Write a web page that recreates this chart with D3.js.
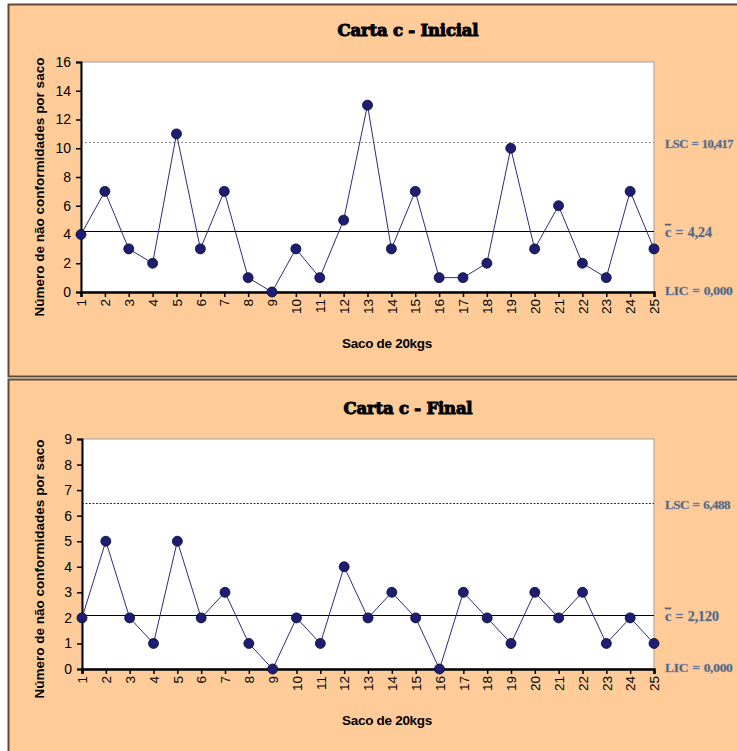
<!DOCTYPE html>
<html><head><meta charset="utf-8">
<script src="https://cdn.jsdelivr.net/npm/d3@7"></script>
<style>body{margin:0;background:#fff}svg{display:block}</style>
</head><body>
<script>
// ---- data ----
const categories = [1,2,3,4,5,6,7,8,9,10,11,12,13,14,15,16,17,18,19,20,21,22,23,24,25];
const valuesInicial = [4,7,3,2,11,3,7,1,0,3,1,5,13,3,7,1,1,2,10,3,6,2,1,7,3];
const valuesFinal   = [2,5,2,1,5,2,3,1,0,2,1,4,2,3,2,0,3,2,1,3,2,3,1,2,1];
const limitsInicial = [10.417, 4.24, 0];   // LSC, c-bar, LIC
const limitsFinal   = [6.488, 2.12, 0];
const labelsInicial = ["10,417", "4,24", "0,000"];
const labelsFinal   = ["6,488", "2,120", "0,000"];
const yTicksInicial = [0,2,4,6,8,10,12,14,16];
const yTicksFinal   = [0,1,2,3,4,5,6,7,8,9];
const titles = ["Carta c - Inicial", "Carta c - Final"];
const xTitle = "Saco de 20kgs";
const yTitle = "Número de não conformidades por saco";

const W = 737, H = 751;
const svg = d3.select("body").append("svg").attr("width", W).attr("height", H);

function drawChart(cfg) {
  const g = svg.append("g");
  g.append("rect").attr("x", 8.5).attr("y", cfg.panelY + 0.5)
    .attr("width", 740).attr("height", cfg.panelH)
    .attr("fill", "#FFCC99").attr("stroke", "#5e4a36").attr("stroke-width", 2);

  g.append("text").attr("x", 408).attr("y", cfg.titleY)
    .attr("text-anchor", "middle")
    .attr("font-family", "'DejaVu Serif', serif").attr("font-weight", "bold")
    .attr("font-size", 16.5).attr("letter-spacing", "-0.2")
    .attr("stroke", "#000").attr("stroke-width", 1)
    .attr("fill", "#000").text(cfg.title);

  const x = d3.scalePoint().domain(categories).range([cfg.left, cfg.right]);
  const y = d3.scaleLinear().domain([0, d3.max(cfg.yTicks)]).range([cfg.bottom, cfg.top]);

  // plot area
  g.append("rect").attr("x", cfg.left).attr("y", cfg.top)
    .attr("width", cfg.right - cfg.left).attr("height", cfg.bottom - cfg.top)
    .attr("fill", "#fff").attr("stroke", "#a0a0a0").attr("stroke-width", 1);

  // control lines
  const [lsc, cl, lic] = cfg.limits;
  g.append("line").attr("x1", cfg.left).attr("x2", cfg.right)
    .attr("y1", Math.round(y(lsc)) + 0.5).attr("y2", Math.round(y(lsc)) + 0.5)
    .attr("stroke", cfg.lscColor).attr("stroke-width", 1).attr("stroke-dasharray", cfg.lscDash);
  g.append("line").attr("x1", cfg.left).attr("x2", cfg.right)
    .attr("y1", Math.round(y(cl)) + 0.5).attr("y2", Math.round(y(cl)) + 0.5)
    .attr("stroke", "#000").attr("stroke-width", 1);

  // axes
  const yAxis = d3.axisLeft(y).tickValues(cfg.yTicks).tickSize(5).tickPadding(5);
  const ya = g.append("g").attr("transform", `translate(${cfg.left},0)`).call(yAxis);
  ya.select(".domain").attr("stroke", "#000").attr("stroke-width", 2);
  ya.selectAll(".tick line").attr("stroke", "#000").attr("stroke-width", 1.5);
  ya.selectAll(".tick text").attr("font-family", "'Liberation Sans', Arial, sans-serif")
    .attr("font-size", 14).attr("fill", "#000");

  const xAxis = d3.axisBottom(x).tickSize(5).tickPadding(0);
  const xa = g.append("g").attr("transform", `translate(0,${cfg.bottom})`).call(xAxis);
  xa.select(".domain").attr("stroke", "#000").attr("stroke-width", 2.5);
  xa.selectAll(".tick line").attr("stroke", "#000").attr("stroke-width", 1.5);
  xa.selectAll(".tick text").attr("font-family", "'Liberation Sans', Arial, sans-serif")
    .attr("font-size", 13.5).attr("fill", "#000")
    .attr("text-anchor", "end").attr("dy", "0.35em")
    .attr("transform", "translate(0,7) rotate(-90)").attr("y", 0).attr("x", 0);

  // series
  const line = d3.line().x((d, i) => x(categories[i])).y(d => y(d));
  g.append("path").datum(cfg.values).attr("d", line)
    .attr("fill", "none").attr("stroke", "#2b2b85").attr("stroke-width", 1);
  g.selectAll(".pt").data(cfg.values).join("circle")
    .attr("cx", (d, i) => x(categories[i])).attr("cy", d => y(d)).attr("r", 5)
    .attr("fill", "#1d1d72").attr("stroke", "#0a0a30").attr("stroke-width", 0.8);

  // axis titles
  g.append("text").attr("x", 387).attr("y", cfg.xTitleY).attr("text-anchor", "middle")
    .attr("font-family", "'Liberation Sans', Arial, sans-serif").attr("font-weight", "bold")
    .attr("font-size", 13.5).attr("letter-spacing", "-0.3").text(xTitle);
  g.append("text").attr("transform", `translate(44,${cfg.yTitleC}) rotate(-90)`)
    .attr("text-anchor", "middle")
    .attr("font-family", "'Liberation Sans', Arial, sans-serif").attr("font-weight", "bold")
    .attr("font-size", 13.5).attr("letter-spacing", "0").text(yTitle);

  // right labels
  const lab = (yy, size, spacing, parts) => {
    const t = g.append("text").attr("x", 665).attr("y", yy).attr("dy", "0.35em")
      .attr("font-family", "'Liberation Serif', serif").attr("font-weight", "bold")
      .attr("font-size", size).attr("letter-spacing", spacing).attr("word-spacing", 1)
      .attr("fill", "#525a6a").attr("stroke", "#7a90b8").attr("stroke-width", 0.4);
    parts.forEach(p => {
      const s = t.append("tspan").text(p.t);
      if (p.over) s.attr("text-decoration", "overline");
    });
  };
  lab(y(lsc) + 1, cfg.lscSize, "-0.5", [{t: "LSC = " + cfg.labels[0]}]);
  lab(y(cl) + 1, 14, "-0.1", [{t: "c", over: true}, {t: " = " + cfg.labels[1]}]);
  lab(y(lic) - 2, 13.5, "-0.3", [{t: "LIC = " + cfg.labels[2]}]);
}

drawChart({panelY: 4, panelH: 372, titleY: 36, title: titles[0],
  left: 81, right: 654, top: 62, bottom: 292, yTicks: yTicksInicial,
  values: valuesInicial, limits: limitsInicial, labels: labelsInicial,
  lscColor: "#8a8a8a", lscDash: "2,2", xTitleY: 348, yTitleC: 187, lscSize: 12.5});
drawChart({panelY: 379, panelH: 380, titleY: 414, title: titles[1],
  left: 82, right: 654, top: 439, bottom: 669, yTicks: yTicksFinal,
  values: valuesFinal, limits: limitsFinal, labels: labelsFinal,
  lscColor: "#333", lscDash: "2,1.5", xTitleY: 725, yTitleC: 569, lscSize: 13});
</script>
</body></html>
